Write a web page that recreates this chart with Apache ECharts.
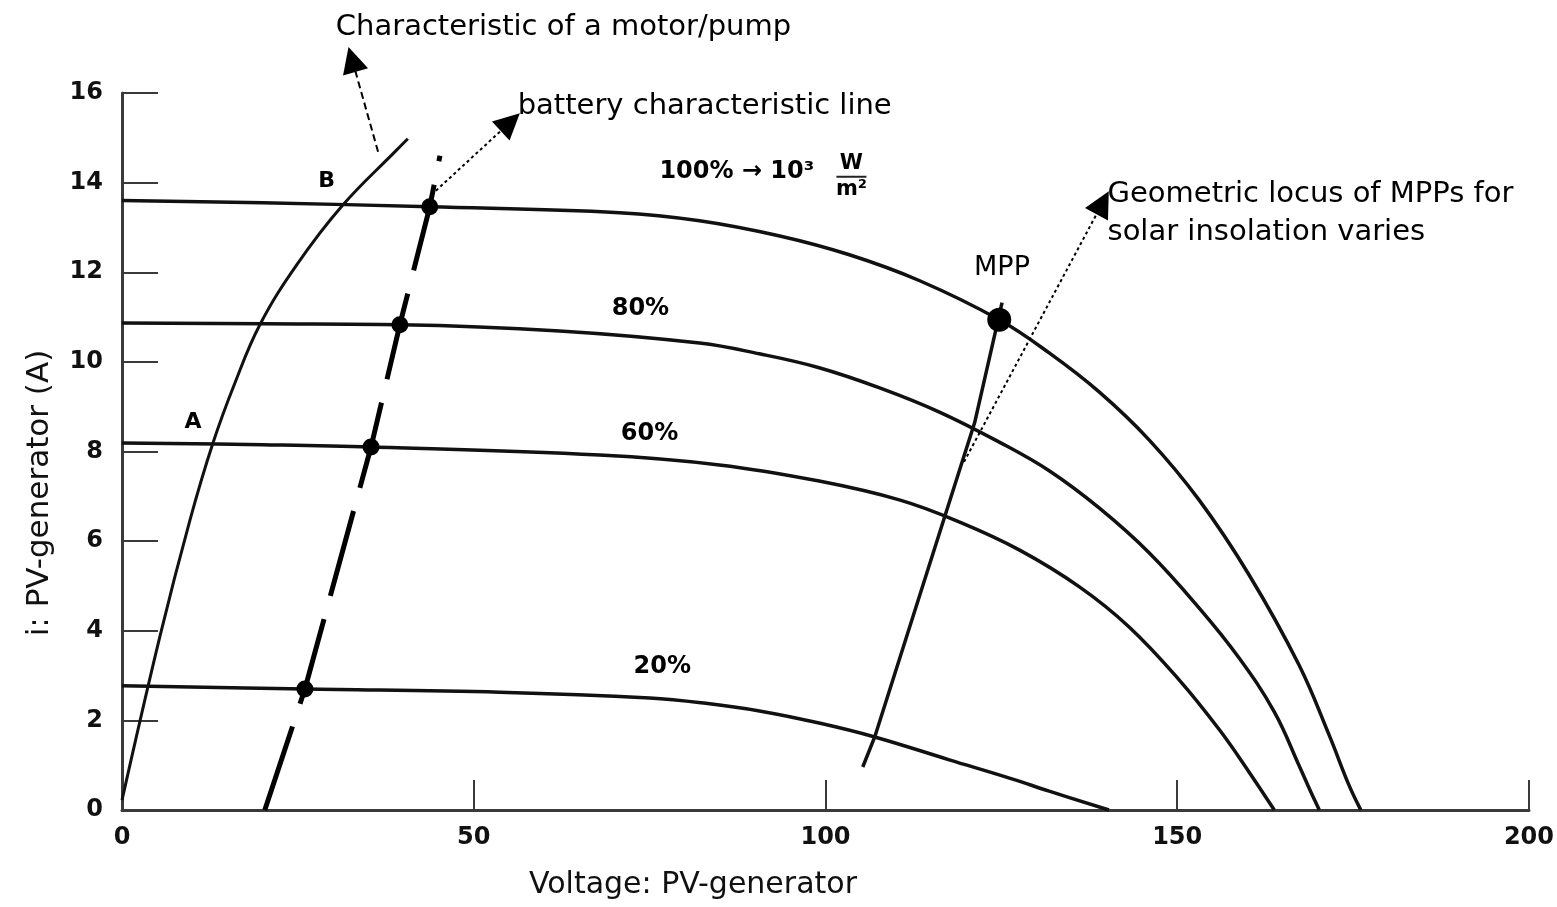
<!DOCTYPE html>
<html>
<head>
<meta charset="utf-8">
<title>PV generator I-V characteristics</title>
<script src="https://cdn.jsdelivr.net/npm/echarts@6/dist/echarts.min.js"></script>
<style>
  html, body { margin: 0; padding: 0; background: #fff; }
  #chart { width: 1557px; height: 907px; }
</style>
</head>
<body>
<div id="chart"></div>
<script>
// ---- Data: voltage (V) vs. current (A) ----

// Axis ticks
const xTicks = { min: 0, max: 200, step: 50 };
const yTicks = { min: 0, max: 16, step: 2 };

// PV generator I-V curves for several insolation levels
const curve100 = [[0,13.6],[20,13.55],[43.75,13.46],[70.7,13.33],[82.1,13.15],[93.5,12.81],[103.4,12.39],[113.4,11.81],[124.7,10.94],[131.8,10.2],[138.9,9.33],[146,8.26],[153.1,6.92],[160.2,5.25],[167.3,3.24],[171.6,1.67],[174.4,0.56],[176.1,0]];
const curve80  = [[0,10.87],[20,10.85],[39.5,10.83],[62.2,10.69],[82.1,10.42],[90.6,10.18],[99.1,9.87],[107.7,9.42],[116.2,8.88],[124.7,8.21],[131.8,7.57],[138.9,6.74],[146,5.74],[153.1,4.51],[158.8,3.39],[163.8,2.19],[167.3,1.0],[169,0.4],[170.2,0]];
const curve60  = [[0,8.19],[20,8.15],[35.4,8.1],[67.9,7.92],[84.9,7.7],[99.1,7.34],[110.5,6.92],[119,6.43],[127.6,5.8],[136.1,4.98],[143.2,4.08],[150.3,2.9],[156,1.79],[160.2,0.85],[163.8,0]];
const curve20  = [[0,2.77],[26,2.7],[53.7,2.63],[75,2.5],[83,2.38],[91,2.2],[99.1,1.94],[107,1.63],[117.6,1.12],[126.6,0.69],[131.8,0.42],[140.3,0]];

// Load characteristic of a motor/pump
const motorCurve = [[0,0.22],[5.4,3.88],[9.66,6.47],[12.93,8.19],[16.05,9.53],[19.6,10.83],[24.86,12.17],[31.39,13.5],[39.06,14.73],[40.63,14.98]];

// Battery characteristic line and its operating points on each curve
const batteryLine = [[20.3,0],[26,2.7],[35.4,8.1],[39.5,10.83],[43.75,13.46],[45.2,14.6]];
const batteryPoints = [[26,2.7],[35.4,8.1],[39.5,10.83],[43.75,13.46]];

// Maximum power point and the locus of MPPs
const mppPoint = [[124.7,10.94]];
const mppLocus = [[105.3,0.96],[107,1.63],[116.9,6.52],[121.2,8.64],[125.1,11.32]];

// Pointer arrows: [from, to]
const motorArrow   = [[36.4,14.69],[32.7,16.75]];
const batteryArrow = [[44.0,13.73],[55.2,15.35]];
const locusArrow   = [[119.7,7.77],[139.4,13.55]];

// Text annotations: [text, x, y]
const curveLabels = [['80%',73.7,11.18],['60%',75,8.39],['20%',76.8,3.19]];
const pointLabels = [['A',10.1,8.64],['B',29.1,14.02]];
const mppLabel = [['MPP',125.1,12.1]];
const noteLabels = [
  ['Characteristic of a motor/pump',30.4,17.46],
  ['battery characteristic line',56.25,15.69],
  ['Geometric locus of MPPs for\nsolar insolation varies',140.1,13.3]
];
const insolationLabel = [['100% \u2192 10\u00B3',76.4,14.25]];
const unitLabel = [['W|m\u00B2',103.7,14.13]];

// Axis titles
const xTitle = 'Voltage: PV-generator';
const yTitle = 'i: PV-generator (A)';

// ---- Chart ----
const FONT = 'DejaVu Sans';
const INK = '#000';
const AXIS = '#3a3a3a';

function curve(data, width) {
  return {
    type: 'line', data, smooth: 0.4,
    symbol: 'none', showSymbol: false, clip: false, silent: true, z: 3,
    lineStyle: { color: '#111', width }
  };
}

function texts(items, label) {
  return {
    type: 'scatter', symbol: 'circle', symbolSize: 0.1, clip: false, silent: true, z: 10,
    itemStyle: { color: INK, opacity: 1 },
    data: items.map(d => ({ name: d[0], value: [d[1], d[2]] })),
    label: Object.assign({ show: true, position: [0, 0], color: INK, opacity: 1, fontFamily: FONT,
      formatter: p => p.name }, label)
  };
}

function arrow(coords, type) {
  return {
    type: 'lines', coordinateSystem: 'cartesian2d', clip: false, silent: true, z: 6,
    symbol: ['none', 'triangle'], symbolSize: [0, 26],
    lineStyle: { color: INK, width: 2, type, opacity: 1, curveness: 0 },
    itemStyle: { color: INK },
    data: [{ coords }]
  };
}

const chart = echarts.init(document.getElementById('chart'));
chart.setOption({
  animation: false,
  backgroundColor: '#fff',
  grid: { left: 122, right: 27, top: 93, bottom: 97 },
  xAxis: {
    type: 'value', min: xTicks.min, max: xTicks.max, interval: xTicks.step,
    axisLine: { show: true, onZero: false, lineStyle: { color: AXIS, width: 3 } },
    axisTick: { show: true, inside: true, length: 30, lineStyle: { color: AXIS, width: 2 } },
    axisLabel: { fontFamily: FONT, fontWeight: 'bold', fontSize: 24, color: '#111', margin: 16 },
    splitLine: { show: false }
  },
  yAxis: {
    type: 'value', min: yTicks.min, max: yTicks.max, interval: yTicks.step,
    axisLine: { show: true, onZero: false, lineStyle: { color: AXIS, width: 3 } },
    axisTick: { show: true, inside: true, length: 36, lineStyle: { color: AXIS, width: 2 } },
    axisLabel: { fontFamily: FONT, fontWeight: 'bold', fontSize: 24, color: '#111', margin: 19 },
    splitLine: { show: false }
  },
  series: [
    curve(curve100, 3.5),
    curve(curve80, 3.5),
    curve(curve60, 3.5),
    curve(curve20, 3.5),
    curve(motorCurve, 3),
    {
      type: 'line', data: batteryLine, symbol: 'none', showSymbol: false, clip: false, silent: true, z: 4,
      lineStyle: { color: '#000', width: 5, type: [88, 24], cap: 'butt' }
    },
    {
      type: 'line', data: mppLocus, symbol: 'none', showSymbol: false, clip: false, silent: true, z: 4,
      lineStyle: { color: '#111', width: 3.5 }
    },
    {
      type: 'scatter', data: batteryPoints, symbol: 'circle', symbolSize: 17, silent: true, z: 7,
      itemStyle: { color: '#000', opacity: 1 }
    },
    {
      type: 'scatter', data: mppPoint, symbol: 'circle', symbolSize: 24, silent: true, z: 7,
      itemStyle: { color: '#000', opacity: 1 }
    },
    arrow(motorArrow, [7, 4]),
    arrow(batteryArrow, [3, 3]),
    arrow(locusArrow, [3, 3]),
    texts(curveLabels, { fontSize: 24, fontWeight: 'bold', align: 'center', verticalAlign: 'middle' }),
    texts(pointLabels, { fontSize: 22, fontWeight: 'bold', align: 'center', verticalAlign: 'middle' }),
    texts(mppLabel, { fontSize: 27, align: 'center', verticalAlign: 'middle' }),
    texts(noteLabels, { fontSize: 29, align: 'left', verticalAlign: 'middle', lineHeight: 38 }),
    texts(insolationLabel, { fontSize: 24, fontWeight: 'bold', align: 'left', verticalAlign: 'middle' }),
    texts(unitLabel, {
      align: 'center', verticalAlign: 'middle',
      formatter: p => {
        const [num, den] = p.name.split('|');
        return '{n|' + num + '}\n{bar|}\n{d|' + den + '}';
      },
      rich: {
        n: { fontFamily: FONT, fontWeight: 'bold', fontSize: 21, color: INK, lineHeight: 20, align: 'center' },
        bar: { width: 30, height: 2, lineHeight: 6, backgroundColor: '#222', align: 'center' },
        d: { fontFamily: FONT, fontWeight: 'bold', fontSize: 21, color: INK, lineHeight: 20, align: 'center' }
      }
    })
  ],
  graphic: [
    {
      type: 'text', x: 693, y: 885,
      style: { text: xTitle, font: '30px "DejaVu Sans"', fill: '#111', align: 'center', verticalAlign: 'middle' }
    },
    {
      type: 'text', x: 40, y: 493, rotation: Math.PI / 2,
      style: { text: yTitle, font: '31px "DejaVu Sans"', fill: '#111', align: 'center', verticalAlign: 'middle' }
    }
  ]
});
</script>
</body>
</html>
